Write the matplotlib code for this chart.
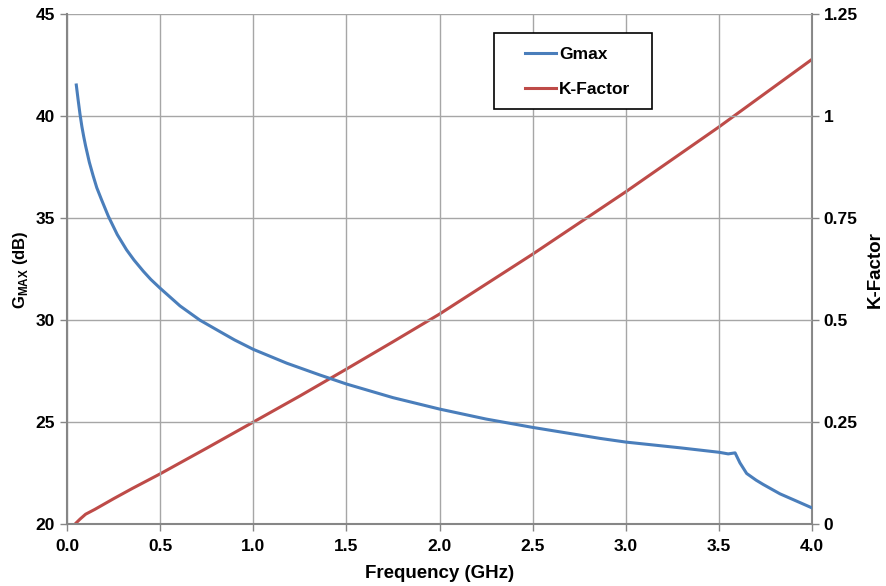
import matplotlib.pyplot as plt
from matplotlib.patches import Rectangle

plt.rcParams['font.family'] = ['Liberation Sans', 'DejaVu Sans']
plt.rcParams['font.weight'] = 'bold'
plt.rcParams['mathtext.fontset'] = 'custom'
plt.rcParams['mathtext.rm'] = 'Liberation Sans:bold'
plt.rcParams['mathtext.bf'] = 'Liberation Sans:bold'

freq_g = [0.05, 0.06, 0.07, 0.08, 0.09, 0.1, 0.12, 0.14, 0.16, 0.186, 0.222, 0.27, 0.32, 0.36,
          0.41, 0.45, 0.5, 0.607, 0.714, 0.821, 0.9, 1.0, 1.18, 1.358, 1.5, 1.75, 2.0, 2.25,
          2.5, 2.862, 3.0, 3.29, 3.5, 3.55, 3.587, 3.613, 3.649, 3.7, 3.738, 3.828, 3.918, 4.0]
gmax = [41.54, 40.8, 40.1, 39.5, 39.0, 38.55, 37.75, 37.1, 36.5, 35.9, 35.1, 34.2, 33.45, 32.95,
        32.4, 32.0, 31.57, 30.7, 30.0, 29.44, 29.03, 28.57, 27.89, 27.31, 26.87, 26.2, 25.64, 25.15,
        24.74, 24.2, 24.02, 23.74, 23.52, 23.44, 23.49, 23.0, 22.48, 22.15, 21.94, 21.48, 21.12, 20.79]

freq_k = [0.05, 0.07, 0.1, 0.15, 0.2, 0.25, 0.35, 0.5, 0.75, 1.0, 1.25, 1.5, 1.75, 2.0,
          2.5, 3.0, 3.5, 4.0]
kfactor = [0.003, 0.012, 0.024, 0.036, 0.049, 0.062, 0.087, 0.123, 0.186, 0.25, 0.314, 0.38,
           0.447, 0.515, 0.662, 0.815, 0.974, 1.14]

x_ticks = [0.0, 0.5, 1.0, 1.5, 2.0, 2.5, 3.0, 3.5, 4.0]
g_ticks = [20, 25, 30, 35, 40, 45]
k_ticks = [0, 0.25, 0.5, 0.75, 1, 1.25]
k_labels = ['0', '0.25', '0.5', '0.75', '1', '1.25']

blue = '#4a7ebb'
red = '#be4b48'

fig = plt.figure(figsize=(8.86, 5.86), dpi=100)
ax = fig.add_axes([0.0756, 0.1058, 0.8409, 0.8695])
ax2 = ax.twinx()

l1, = ax.plot(freq_g, gmax, color=blue, lw=2.2, label='Gmax')
l2, = ax2.plot(freq_k, kfactor, color=red, lw=2.2, label='K-Factor')

ax.set_xlim(0, 4)
ax.set_ylim(20, 45)
ax2.set_ylim(0, 1.25)
ax.set_xticks(x_ticks)
ax.set_xticklabels([f'{v:.1f}' for v in x_ticks])
ax.set_yticks(g_ticks)
ax2.set_yticks(k_ticks)
ax2.set_yticklabels(k_labels)

ax.grid(True, color='#a6a6a6', lw=1)
ax.set_axisbelow(True)

for a in (ax, ax2):
    a.tick_params(labelsize=12.5, color='#868686', length=5, width=1, direction='out')
    for s in a.spines.values():
        s.set_visible(False)
ax.tick_params(axis='x', pad=6)
ax.spines['left'].set_visible(True)
ax.spines['bottom'].set_visible(True)
ax2.spines['right'].set_visible(True)
for s in (ax.spines['left'], ax.spines['bottom'], ax2.spines['right']):
    s.set_color('#868686')
    s.set_linewidth(1.5)

ax.set_xlabel('Frequency (GHz)', fontsize=13.5, fontweight='bold', labelpad=8)
ax.set_ylabel(r'G$_{\mathbf{MAX}}$ (dB)', fontsize=12, fontweight='bold', labelpad=4)
ax2.set_ylabel('K-Factor', fontsize=13.5, fontweight='bold', labelpad=6)

ax.add_patch(Rectangle((0.573, 0.8145), 0.212, 0.1492, transform=ax.transAxes,
                       facecolor='white', edgecolor='black', lw=1.2, zorder=9))
leg = ax.legend(handles=[l1, l2], loc='center left', bbox_to_anchor=(0.6148, 0.887),
                fontsize=12.5, frameon=False, handlelength=1.8, handletextpad=0.15,
                labelspacing=1.15, borderpad=0, borderaxespad=0)
for t in leg.get_texts():
    t.set_fontweight('bold')
leg.set_zorder(10)
ax.set_zorder(ax2.get_zorder() + 1)
ax.patch.set_visible(False)

fig.savefig('out.png', dpi=100)
